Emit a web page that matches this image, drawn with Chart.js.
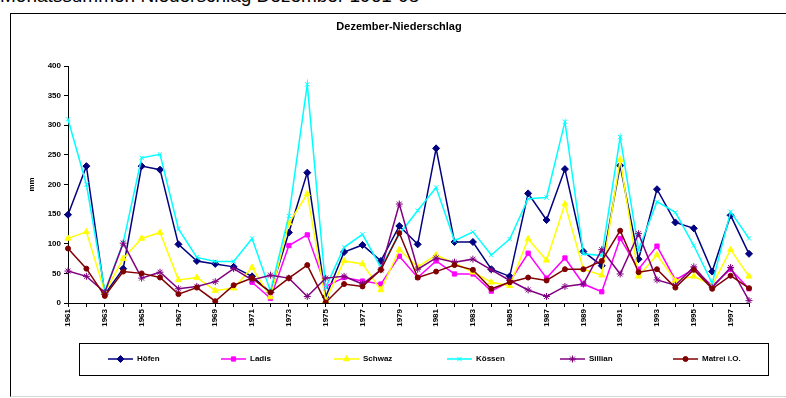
<!DOCTYPE html>
<html>
<head>
<meta charset="utf-8">
<script src="https://cdn.jsdelivr.net/npm/chart.js"></script>
<style>
  html, body { margin: 0; padding: 0; background: #fff; width: 786px; height: 398px; overflow: hidden; }
  #heading { position: absolute; left: 0px; top: -14px; font: 19px/19px "Liberation Sans", Arial, sans-serif; color: #000; white-space: nowrap; }
  #frame { position: absolute; left: 10px; top: 13px; width: 820px; height: 382px; border-left: 1px solid #000; border-top: 1px solid #000; border-bottom: 1px solid #d8d8d8; }
  #wrap { position: absolute; left: 0; top: 0; width: 786px; height: 398px; }
</style>
</head>
<body>
<div id="heading">Monatssummen Niederschlag Dezember 1961-98</div>
<div id="frame"></div>
<div id="wrap"><canvas id="c" width="786" height="398"></canvas></div>
<script>
// December precipitation totals (mm) per station, 1961-1998
const years = ['1961','1962','1963','1964','1965','1966','1967','1968','1969','1970',
               '1971','1972','1973','1974','1975','1976','1977','1978','1979','1980',
               '1981','1982','1983','1984','1985','1986','1987','1988','1989','1990',
               '1991','1992','1993','1994','1995','1996','1997','1998'];

const hoefen  = [149,231,15,58,231,225,99,71,66,61,45,18,119,220,10,86,98,71,130,99,261,103,103,57,45,185,140,226,87,63,232,74,192,136,126,53,148,83];
const ladis   = [null,null,null,null,null,null,null,null,null,null,35,8,97,115,28,43,37,32,79,43,71,49,49,20,36,84,42,76,32,19,109,57,96,39,57,29,57,24];
const schwaz  = [109,120,18,75,109,119,39,43,21,25,60,10,135,184,4,71,66,22,90,61,81,67,52,35,29,108,72,167,57,47,242,45,81,38,45,30,90,45];
const koessen = [310,200,20,102,245,251,125,77,70,70,109,20,147,369,26,94,116,60,116,156,195,105,120,81,108,176,178,306,83,80,280,90,171,153,97,33,154,109];
const sillian = [54,45,18,101,42,52,24,28,36,58,39,47,42,11,42,45,32,56,167,57,76,69,74,56,38,22,11,28,32,90,49,117,39,30,61,26,60,4];
const matrei  = [92,58,12,53,50,43,15,26,3,30,42,18,42,64,1,32,28,56,118,43,53,64,56,24,35,43,38,57,57,71,122,52,57,26,56,24,46,25];

const stationNames = ['Höfen', 'Ladis', 'Schwaz', 'Kössen', 'Sillian', 'Matrei i.O.'];
const yTicks = { min: 0, max: 400, step: 50 };

const FONT = '"Liberation Sans", Arial, sans-serif';

const styles = [
  { color: '#000080', point: 'rectRot',  radius: 3.5 },
  { color: '#ff00ff', point: 'rect',     radius: 3 },
  { color: '#ffff00', point: 'triangle', radius: 3.5 },
  { color: '#00ffff', point: 'crossRot', radius: 3 },
  { color: '#800080', point: 'star',     radius: 3.5 },
  { color: '#800000', point: 'circle',   radius: 2.5 }
];

const series = [hoefen, ladis, schwaz, koessen, sillian, matrei];

const datasets = series.map((values, i) => ({
  label: stationNames[i],
  data: values,
  borderColor: styles[i].color,
  backgroundColor: styles[i].color,
  borderWidth: 1.5,
  pointStyle: styles[i].point,
  pointRadius: styles[i].radius,
  pointBorderWidth: 1,
  pointBorderColor: styles[i].color,
  pointBackgroundColor: styles[i].color,
  tension: 0,
  spanGaps: false,
  order: series.length - i
}));

// Heading and boxed legend, drawn onto the chart canvas
const decorations = {
  id: 'decorations',
  afterDraw(chart) {
    const ctx = chart.ctx;
    ctx.save();
    ctx.fillStyle = '#000';
    ctx.font = 'bold 11px ' + FONT;
    ctx.textAlign = 'center';
    ctx.textBaseline = 'middle';
    ctx.fillText('Dezember-Niederschlag', 399, 27);

    // legend box
    ctx.strokeStyle = '#000';
    ctx.lineWidth = 1;
    ctx.strokeRect(79.5, 343.5, 689, 32);

    const cy = 359;
    chart.data.datasets.forEach((ds, i) => {
      const x0 = 108 + i * 113;
      ctx.strokeStyle = ds.borderColor;
      ctx.lineWidth = 1.5;
      ctx.beginPath();
      ctx.moveTo(x0, cy);
      ctx.lineTo(x0 + 25, cy);
      ctx.stroke();
      if (Chart.helpers && Chart.helpers.drawPoint) {
        ctx.fillStyle = ds.pointBackgroundColor;
        ctx.strokeStyle = ds.pointBorderColor;
        ctx.lineWidth = 1;
        Chart.helpers.drawPoint(ctx, { pointStyle: ds.pointStyle, radius: ds.pointRadius, rotation: 0, borderWidth: 1 }, x0 + 12.5, cy);
      }
      ctx.fillStyle = '#000';
      ctx.font = 'bold 8px ' + FONT;
      ctx.textAlign = 'left';
      ctx.textBaseline = 'middle';
      ctx.fillText(ds.label, x0 + 29, cy);
    });
    ctx.restore();
  }
};

new Chart(document.getElementById('c'), {
  type: 'line',
  data: { labels: years, datasets },
  plugins: [decorations],
  options: {
    responsive: false,
    animation: false,
    devicePixelRatio: 1,
    layout: { padding: { left: 0, top: 66, right: 37, bottom: 65 } },
    plugins: { legend: { display: false }, tooltip: { enabled: false }, title: { display: false } },
    scales: {
      x: {
        type: 'category',
        offset: false,
        afterFit(scale) { scale.height = 30; },
        grid: { drawOnChartArea: false, drawTicks: true, tickLength: 4, color: '#000' },
        border: { color: '#000', width: 1 },
        ticks: {
          autoSkip: false,
          minRotation: 90,
          maxRotation: 90,
          padding: 2,
          color: '#000',
          font: { family: FONT, size: 8, weight: 'bold' },
          callback(value, index) { return index % 2 === 0 ? this.getLabelForValue(value) : ''; }
        }
      },
      y: {
        min: yTicks.min,
        max: yTicks.max,
        afterFit(scale) { scale.width = 68; },
        grid: { drawOnChartArea: false, drawTicks: true, tickLength: 4, color: '#000' },
        border: { color: '#000', width: 1 },
        title: { display: true, text: 'mm', color: '#000', font: { family: FONT, size: 8, weight: 'bold' }, padding: { top: 27, bottom: 0 } },
        ticks: {
          stepSize: yTicks.step,
          padding: 3,
          color: '#000',
          font: { family: FONT, size: 8, weight: 'bold' }
        }
      }
    }
  }
});
</script>
</body>
</html>
